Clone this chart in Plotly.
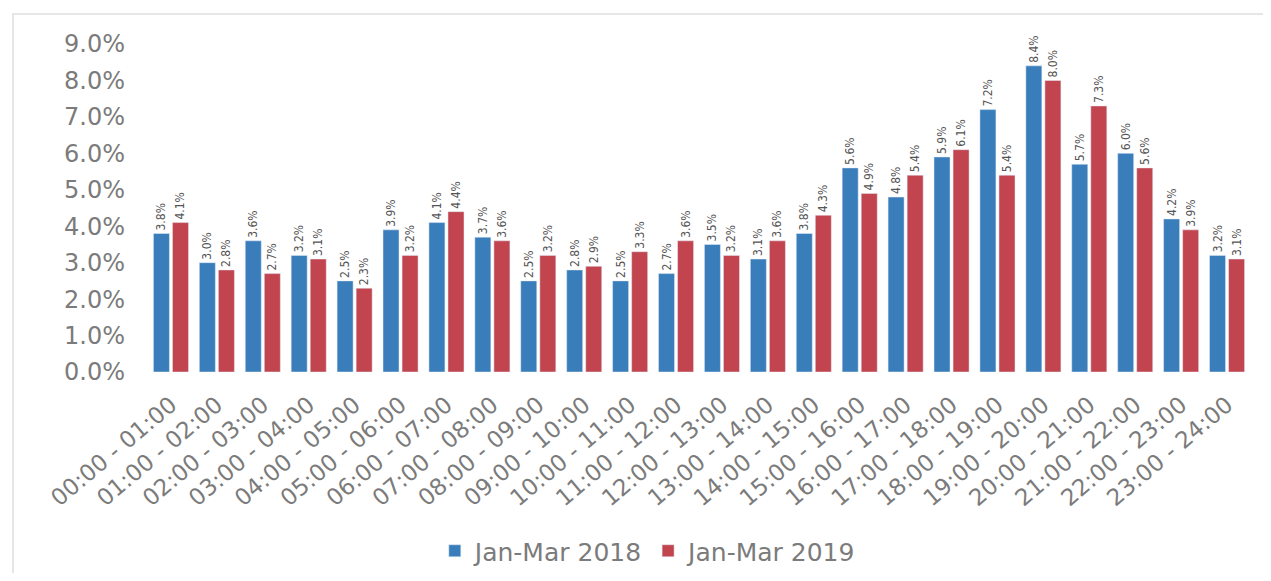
import plotly.graph_objects as go

categories = ["00:00 - 01:00", "01:00 - 02:00", "02:00 - 03:00", "03:00 - 04:00",
              "04:00 - 05:00", "05:00 - 06:00", "06:00 - 07:00", "07:00 - 08:00",
              "08:00 - 09:00", "09:00 - 10:00", "10:00 - 11:00", "11:00 - 12:00",
              "12:00 - 13:00", "13:00 - 14:00", "14:00 - 15:00", "15:00 - 16:00",
              "16:00 - 17:00", "17:00 - 18:00", "18:00 - 19:00", "19:00 - 20:00",
              "20:00 - 21:00", "21:00 - 22:00", "22:00 - 23:00", "23:00 - 24:00"]
jan_mar_2018 = [3.8, 3.0, 3.6, 3.2, 2.5, 3.9, 4.1, 3.7, 2.5, 2.8, 2.5, 2.7,
                3.5, 3.1, 3.8, 5.6, 4.8, 5.9, 7.2, 8.4, 5.7, 6.0, 4.2, 3.2]
jan_mar_2019 = [4.1, 2.8, 2.7, 3.1, 2.3, 3.2, 4.4, 3.6, 3.2, 2.9, 3.3, 3.6,
                3.2, 3.6, 4.3, 4.9, 5.4, 6.1, 5.4, 8.0, 7.3, 5.6, 3.9, 3.1]
series_names = ["Jan-Mar 2018", "Jan-Mar 2019"]
y_ticks = [0, 1, 2, 3, 4, 5, 6, 7, 8, 9]
y_tick_labels = [f"{v:.1f}%" for v in y_ticks]

colors = ["#3a7dbb", "#c1444f"]
grey = "#7b7b7b"

fig = go.Figure()
for name, vals, col in zip(series_names, [jan_mar_2018, jan_mar_2019], colors):
    fig.add_trace(go.Bar(
        x=categories, y=vals, name=name, marker_color=col,
        text=[f"{v:.1f}%" for v in vals], textposition="outside",
        textangle=-90, cliponaxis=False, constraintext="none",
        textfont=dict(family="DejaVu Sans Condensed, DejaVu Sans", size=12, color="#555555"),
    ))

# page body has an 8px default margin; figure is sized to fit the window
W, H = 1255, 565
ml, mt = 140, 36
pw, ph = 1102, 328
mr, mb = W - ml - pw, H - mt - ph

fig.update_layout(
    width=W, height=H,
    margin=dict(l=ml, r=mr, t=mt, b=mb, autoexpand=False),
    plot_bgcolor="white", paper_bgcolor="white",
    barmode="group", bargap=0.17, bargroupgap=0.16,
    font=dict(family="DejaVu Sans, Verdana", color=grey, size=22),
    xaxis=dict(tickangle=-40, tickfont=dict(size=23, color=grey), showgrid=False,
               showline=False, ticks="", automargin=False, ticklabelstandoff=14),
    yaxis=dict(range=[0, 9], tickvals=y_ticks, ticktext=y_tick_labels,
               showgrid=False, zeroline=False, showline=False,
               tickfont=dict(size=24, color=grey), ticks="", ticklen=0,
               automargin=False, ticklabelstandoff=22),
    legend=dict(orientation="h", x=0.454, xanchor="center",
                yref="container", y=1 - (551 - 8) / H, yanchor="middle",
                font=dict(size=25, color=grey), traceorder="normal"),
    shapes=[dict(type="rect", xref="paper", yref="paper",
                 x0=(5 - ml) / pw, x1=(W + 5 - ml) / pw,
                 y0=-(H + 5 - mt - ph) / ph, y1=1 + (mt - 6) / ph,
                 line=dict(color="#e6e6e6", width=2), layer="below")],
)
fig.write_html("out.html")
